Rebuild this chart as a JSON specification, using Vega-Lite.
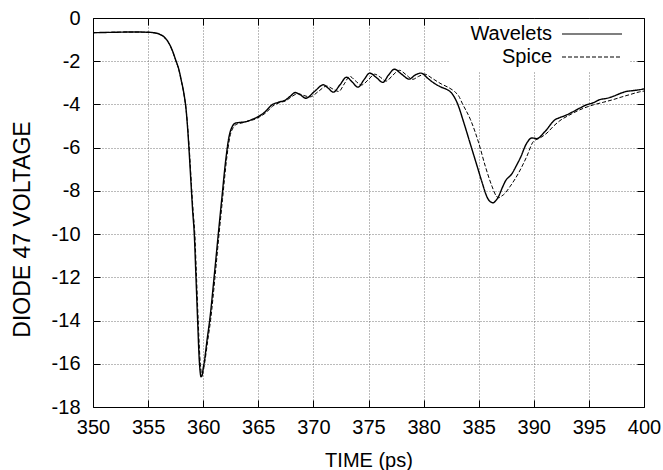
{
  "$schema": "https://vega.github.io/schema/vega-lite/v6.json",
  "width": 551,
  "height": 389,
  "autosize": {"type": "none"},
  "padding": {"left": 93, "top": 18, "right": 19, "bottom": 63},
  "background": "white",
  "config": {
    "font": "Liberation Sans",
    "view": {"stroke": "black", "strokeWidth": 1},
    "axis": {
      "domain": false,
      "tickColor": "black",
      "tickWidth": 1,
      "tickSize": -7,
      "labelColor": "black",
      "labelFontSize": 20,
      "labelFlush": false,
      "labelOverlap": false,
      "titleColor": "black",
      "titleFontSize": 20,
      "titleFontWeight": "normal",
      "gridColor": "#777777",
      "gridDash": [1, 2],
      "gridOpacity": 1,
      "gridWidth": 1
    },
    "legend": {
      "title": null,
      "orient": "none",
      "legendX": 357,
      "legendY": 1,
      "padding": 5,
      "fillColor": "white",
      "symbolType": "M-6,0H6",
      "symbolSize": 100,
      "symbolOffset": 127,
      "symbolStrokeColor": "black",
      "symbolStrokeWidth": 1.2,
      "labelFontSize": 20,
      "labelColor": "black",
      "labelAlign": "right",
      "labelOffset": -50,
      "labelLimit": 300,
      "rowPadding": 3
    }
  },
  "data": {
    "values": [
      {"t": 350, "v": -0.68, "s": "Wavelets"},
      {"t": 351, "v": -0.67, "s": "Wavelets"},
      {"t": 352, "v": -0.66, "s": "Wavelets"},
      {"t": 353, "v": -0.65, "s": "Wavelets"},
      {"t": 354, "v": -0.65, "s": "Wavelets"},
      {"t": 355, "v": -0.66, "s": "Wavelets"},
      {"t": 355.5, "v": -0.68, "s": "Wavelets"},
      {"t": 356, "v": -0.74, "s": "Wavelets"},
      {"t": 356.5, "v": -0.9, "s": "Wavelets"},
      {"t": 356.8, "v": -1.09, "s": "Wavelets"},
      {"t": 357.2, "v": -1.5, "s": "Wavelets"},
      {"t": 357.5, "v": -1.94, "s": "Wavelets"},
      {"t": 357.8, "v": -2.4, "s": "Wavelets"},
      {"t": 358.0, "v": -2.86, "s": "Wavelets"},
      {"t": 358.25, "v": -3.5, "s": "Wavelets"},
      {"t": 358.45, "v": -4.25, "s": "Wavelets"},
      {"t": 358.6, "v": -5.2, "s": "Wavelets"},
      {"t": 358.75, "v": -6.4, "s": "Wavelets"},
      {"t": 358.9, "v": -7.7, "s": "Wavelets"},
      {"t": 359.04, "v": -8.9, "s": "Wavelets"},
      {"t": 359.19, "v": -10.0, "s": "Wavelets"},
      {"t": 359.34, "v": -11.94, "s": "Wavelets"},
      {"t": 359.49, "v": -13.94, "s": "Wavelets"},
      {"t": 359.64, "v": -15.8, "s": "Wavelets"},
      {"t": 359.72, "v": -16.35, "s": "Wavelets"},
      {"t": 359.8, "v": -16.6, "s": "Wavelets"},
      {"t": 359.9, "v": -16.55, "s": "Wavelets"},
      {"t": 360.0, "v": -16.2, "s": "Wavelets"},
      {"t": 360.09, "v": -15.94, "s": "Wavelets"},
      {"t": 360.35, "v": -14.9, "s": "Wavelets"},
      {"t": 360.6, "v": -13.94, "s": "Wavelets"},
      {"t": 361.0, "v": -11.94, "s": "Wavelets"},
      {"t": 361.38, "v": -9.94, "s": "Wavelets"},
      {"t": 361.68, "v": -8.4, "s": "Wavelets"},
      {"t": 362.05, "v": -6.55, "s": "Wavelets"},
      {"t": 362.34, "v": -5.5, "s": "Wavelets"},
      {"t": 362.64, "v": -5.02, "s": "Wavelets"},
      {"t": 362.95, "v": -4.86, "s": "Wavelets"},
      {"t": 363.4, "v": -4.83, "s": "Wavelets"},
      {"t": 363.85, "v": -4.8, "s": "Wavelets"},
      {"t": 364.5, "v": -4.68, "s": "Wavelets"},
      {"t": 365.05, "v": -4.55, "s": "Wavelets"},
      {"t": 365.6, "v": -4.35, "s": "Wavelets"},
      {"t": 366.24, "v": -4.02, "s": "Wavelets"},
      {"t": 366.8, "v": -3.9, "s": "Wavelets"},
      {"t": 367.45, "v": -3.8, "s": "Wavelets"},
      {"t": 367.9, "v": -3.62, "s": "Wavelets"},
      {"t": 368.35, "v": -3.45, "s": "Wavelets"},
      {"t": 368.8, "v": -3.55, "s": "Wavelets"},
      {"t": 369.31, "v": -3.71, "s": "Wavelets"},
      {"t": 370.1, "v": -3.4, "s": "Wavelets"},
      {"t": 370.9, "v": -3.09, "s": "Wavelets"},
      {"t": 371.35, "v": -3.25, "s": "Wavelets"},
      {"t": 371.8, "v": -3.43, "s": "Wavelets"},
      {"t": 372.4, "v": -3.1, "s": "Wavelets"},
      {"t": 373.0, "v": -2.74, "s": "Wavelets"},
      {"t": 373.5, "v": -2.95, "s": "Wavelets"},
      {"t": 374.05, "v": -3.2, "s": "Wavelets"},
      {"t": 374.6, "v": -2.85, "s": "Wavelets"},
      {"t": 375.1, "v": -2.55, "s": "Wavelets"},
      {"t": 375.7, "v": -2.75, "s": "Wavelets"},
      {"t": 376.3, "v": -2.98, "s": "Wavelets"},
      {"t": 376.8, "v": -2.65, "s": "Wavelets"},
      {"t": 377.36, "v": -2.37, "s": "Wavelets"},
      {"t": 378.0, "v": -2.6, "s": "Wavelets"},
      {"t": 378.7, "v": -2.83, "s": "Wavelets"},
      {"t": 379.2, "v": -2.65, "s": "Wavelets"},
      {"t": 379.76, "v": -2.55, "s": "Wavelets"},
      {"t": 380.4, "v": -2.8, "s": "Wavelets"},
      {"t": 380.96, "v": -3.02, "s": "Wavelets"},
      {"t": 381.6, "v": -3.2, "s": "Wavelets"},
      {"t": 382.16, "v": -3.32, "s": "Wavelets"},
      {"t": 382.5, "v": -3.45, "s": "Wavelets"},
      {"t": 383.06, "v": -3.94, "s": "Wavelets"},
      {"t": 383.66, "v": -4.86, "s": "Wavelets"},
      {"t": 384.26, "v": -5.86, "s": "Wavelets"},
      {"t": 384.86, "v": -6.86, "s": "Wavelets"},
      {"t": 385.32, "v": -7.63, "s": "Wavelets"},
      {"t": 385.77, "v": -8.3, "s": "Wavelets"},
      {"t": 386.05, "v": -8.5, "s": "Wavelets"},
      {"t": 386.31, "v": -8.55, "s": "Wavelets"},
      {"t": 386.55, "v": -8.45, "s": "Wavelets"},
      {"t": 386.82, "v": -8.24, "s": "Wavelets"},
      {"t": 387.1, "v": -7.9, "s": "Wavelets"},
      {"t": 387.42, "v": -7.55, "s": "Wavelets"},
      {"t": 388.02, "v": -7.2, "s": "Wavelets"},
      {"t": 388.4, "v": -6.85, "s": "Wavelets"},
      {"t": 388.77, "v": -6.48, "s": "Wavelets"},
      {"t": 389.37, "v": -5.78, "s": "Wavelets"},
      {"t": 389.82, "v": -5.55, "s": "Wavelets"},
      {"t": 390.27, "v": -5.58, "s": "Wavelets"},
      {"t": 391.02, "v": -5.25, "s": "Wavelets"},
      {"t": 391.92, "v": -4.71, "s": "Wavelets"},
      {"t": 392.4, "v": -4.6, "s": "Wavelets"},
      {"t": 392.82, "v": -4.52, "s": "Wavelets"},
      {"t": 393.5, "v": -4.35, "s": "Wavelets"},
      {"t": 394.17, "v": -4.17, "s": "Wavelets"},
      {"t": 394.77, "v": -4.02, "s": "Wavelets"},
      {"t": 395.4, "v": -3.92, "s": "Wavelets"},
      {"t": 395.97, "v": -3.78, "s": "Wavelets"},
      {"t": 396.6, "v": -3.72, "s": "Wavelets"},
      {"t": 397.18, "v": -3.63, "s": "Wavelets"},
      {"t": 397.8, "v": -3.5, "s": "Wavelets"},
      {"t": 398.38, "v": -3.4, "s": "Wavelets"},
      {"t": 399.0, "v": -3.36, "s": "Wavelets"},
      {"t": 399.58, "v": -3.32, "s": "Wavelets"},
      {"t": 400, "v": -3.28, "s": "Wavelets"},
      {"t": 350, "v": -0.68, "s": "Spice"},
      {"t": 351, "v": -0.67, "s": "Spice"},
      {"t": 352, "v": -0.66, "s": "Spice"},
      {"t": 353, "v": -0.65, "s": "Spice"},
      {"t": 354, "v": -0.65, "s": "Spice"},
      {"t": 355, "v": -0.66, "s": "Spice"},
      {"t": 355.5, "v": -0.68, "s": "Spice"},
      {"t": 356, "v": -0.75, "s": "Spice"},
      {"t": 356.5, "v": -0.92, "s": "Spice"},
      {"t": 356.8, "v": -1.1, "s": "Spice"},
      {"t": 357.2, "v": -1.52, "s": "Spice"},
      {"t": 357.5, "v": -1.95, "s": "Spice"},
      {"t": 357.8, "v": -2.42, "s": "Spice"},
      {"t": 358.0, "v": -2.88, "s": "Spice"},
      {"t": 358.25, "v": -3.52, "s": "Spice"},
      {"t": 358.45, "v": -4.25, "s": "Spice"},
      {"t": 358.62, "v": -5.2, "s": "Spice"},
      {"t": 358.78, "v": -6.4, "s": "Spice"},
      {"t": 358.93, "v": -7.7, "s": "Spice"},
      {"t": 359.08, "v": -8.9, "s": "Spice"},
      {"t": 359.24, "v": -10.0, "s": "Spice"},
      {"t": 359.39, "v": -11.94, "s": "Spice"},
      {"t": 359.54, "v": -13.94, "s": "Spice"},
      {"t": 359.7, "v": -15.7, "s": "Spice"},
      {"t": 359.8, "v": -16.3, "s": "Spice"},
      {"t": 359.9, "v": -16.5, "s": "Spice"},
      {"t": 360.0, "v": -16.35, "s": "Spice"},
      {"t": 360.15, "v": -15.9, "s": "Spice"},
      {"t": 360.42, "v": -14.9, "s": "Spice"},
      {"t": 360.68, "v": -13.94, "s": "Spice"},
      {"t": 361.08, "v": -11.94, "s": "Spice"},
      {"t": 361.45, "v": -9.94, "s": "Spice"},
      {"t": 361.75, "v": -8.4, "s": "Spice"},
      {"t": 362.12, "v": -6.55, "s": "Spice"},
      {"t": 362.42, "v": -5.5, "s": "Spice"},
      {"t": 362.75, "v": -5.05, "s": "Spice"},
      {"t": 363.1, "v": -4.9, "s": "Spice"},
      {"t": 363.5, "v": -4.86, "s": "Spice"},
      {"t": 364.0, "v": -4.78, "s": "Spice"},
      {"t": 364.6, "v": -4.7, "s": "Spice"},
      {"t": 365.1, "v": -4.58, "s": "Spice"},
      {"t": 365.7, "v": -4.38, "s": "Spice"},
      {"t": 366.3, "v": -4.08, "s": "Spice"},
      {"t": 366.9, "v": -3.92, "s": "Spice"},
      {"t": 367.5, "v": -3.83, "s": "Spice"},
      {"t": 368.0, "v": -3.65, "s": "Spice"},
      {"t": 368.6, "v": -3.5, "s": "Spice"},
      {"t": 369.1, "v": -3.58, "s": "Spice"},
      {"t": 369.7, "v": -3.65, "s": "Spice"},
      {"t": 370.45, "v": -3.4, "s": "Spice"},
      {"t": 371.2, "v": -3.15, "s": "Spice"},
      {"t": 371.75, "v": -3.28, "s": "Spice"},
      {"t": 372.3, "v": -3.4, "s": "Spice"},
      {"t": 372.8, "v": -3.05, "s": "Spice"},
      {"t": 373.3, "v": -2.7, "s": "Spice"},
      {"t": 373.8, "v": -2.9, "s": "Spice"},
      {"t": 374.35, "v": -3.1, "s": "Spice"},
      {"t": 375.0, "v": -2.85, "s": "Spice"},
      {"t": 375.55, "v": -2.6, "s": "Spice"},
      {"t": 376.1, "v": -2.75, "s": "Spice"},
      {"t": 376.6, "v": -2.92, "s": "Spice"},
      {"t": 377.2, "v": -2.65, "s": "Spice"},
      {"t": 377.8, "v": -2.42, "s": "Spice"},
      {"t": 378.4, "v": -2.62, "s": "Spice"},
      {"t": 379.0, "v": -2.84, "s": "Spice"},
      {"t": 379.55, "v": -2.7, "s": "Spice"},
      {"t": 380.1, "v": -2.6, "s": "Spice"},
      {"t": 380.8, "v": -2.8, "s": "Spice"},
      {"t": 381.6, "v": -3.05, "s": "Spice"},
      {"t": 382.2, "v": -3.2, "s": "Spice"},
      {"t": 382.8, "v": -3.4, "s": "Spice"},
      {"t": 383.2, "v": -3.62, "s": "Spice"},
      {"t": 383.5, "v": -3.94, "s": "Spice"},
      {"t": 384.26, "v": -4.71, "s": "Spice"},
      {"t": 385.0, "v": -5.78, "s": "Spice"},
      {"t": 385.6, "v": -6.86, "s": "Spice"},
      {"t": 386.2, "v": -7.78, "s": "Spice"},
      {"t": 386.6, "v": -8.24, "s": "Spice"},
      {"t": 386.8, "v": -8.32, "s": "Spice"},
      {"t": 387.05, "v": -8.25, "s": "Spice"},
      {"t": 387.27, "v": -8.17, "s": "Spice"},
      {"t": 387.87, "v": -7.78, "s": "Spice"},
      {"t": 388.62, "v": -7.17, "s": "Spice"},
      {"t": 389.37, "v": -6.4, "s": "Spice"},
      {"t": 389.97, "v": -5.71, "s": "Spice"},
      {"t": 390.57, "v": -5.55, "s": "Spice"},
      {"t": 391.2, "v": -5.32, "s": "Spice"},
      {"t": 391.8, "v": -5.0, "s": "Spice"},
      {"t": 392.37, "v": -4.75, "s": "Spice"},
      {"t": 393.2, "v": -4.5, "s": "Spice"},
      {"t": 394.17, "v": -4.25, "s": "Spice"},
      {"t": 395.4, "v": -4.02, "s": "Spice"},
      {"t": 396.3, "v": -3.9, "s": "Spice"},
      {"t": 397.18, "v": -3.78, "s": "Spice"},
      {"t": 398.0, "v": -3.65, "s": "Spice"},
      {"t": 398.68, "v": -3.55, "s": "Spice"},
      {"t": 399.58, "v": -3.42, "s": "Spice"},
      {"t": 400, "v": -3.38, "s": "Spice"}
    ]
  },
  "layer": [
    {
      "transform": [{"filter": "datum.s === 'Wavelets'"}],
      "mark": {"type": "line", "color": "black", "strokeWidth": 1.4, "clip": true, "interpolate": "monotone"},
      "encoding": {
        "x": {
          "field": "t", "type": "quantitative",
          "scale": {"domain": [350, 400], "nice": false, "zero": false},
          "axis": {
            "orient": "bottom",
            "values": [350, 355, 360, 365, 370, 375, 380, 385, 390, 395, 400],
            "grid": true,
            "gridOpacity": {"condition": {"test": "datum.value == 350 || datum.value == 400", "value": 0}, "value": 1},
            "labelPadding": 17,
            "title": "TIME (ps)",
            "titleY": 59,
            "titleBaseline": "alphabetic"
          }
        },
        "y": {
          "field": "v", "type": "quantitative",
          "scale": {"domain": [-18, 0], "nice": false, "zero": false},
          "axis": {
            "orient": "left",
            "values": [-18, -16, -14, -12, -10, -8, -6, -4, -2, 0],
            "labelExpr": "toString(datum.value)",
            "grid": true,
            "gridOpacity": {"condition": {"test": "datum.value == -18 || datum.value == 0", "value": 0}, "value": 1},
            "labelPadding": 20,
            "title": "DIODE 47 VOLTAGE",
            "titleFontSize": 23,
            "titleX": -64,
            "titleY": 211,
            "titleAngle": -90,
            "titleAlign": "center",
            "titleBaseline": "alphabetic"
          }
        },
        "strokeDash": {
          "field": "s", "type": "nominal",
          "scale": {"domain": ["Wavelets", "Spice"], "range": [[1, 0], [4, 2]]}
        }
      }
    },
    {
      "transform": [{"filter": "datum.s === 'Spice'"}],
      "mark": {"type": "line", "color": "black", "strokeWidth": 1, "clip": true, "interpolate": "monotone"},
      "encoding": {
        "x": {
          "field": "t", "type": "quantitative",
          "axis": {
            "orient": "top",
            "values": [350, 355, 360, 365, 370, 375, 380, 385, 390, 395, 400],
            "grid": false, "labels": false, "title": null
          }
        },
        "y": {
          "field": "v", "type": "quantitative",
          "axis": {
            "orient": "right",
            "values": [-18, -16, -14, -12, -10, -8, -6, -4, -2, 0],
            "grid": false, "labels": false, "title": null
          }
        },
        "strokeDash": {
          "field": "s", "type": "nominal"
        }
      }
    }
  ],
  "resolve": {"axis": {"x": "independent", "y": "independent"}}
}
